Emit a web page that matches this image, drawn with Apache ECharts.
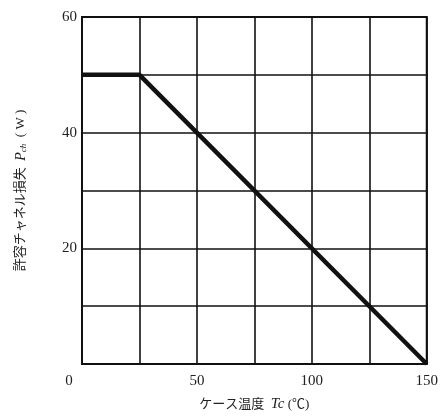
<!DOCTYPE html>
<html>
<head>
<meta charset="utf-8">
<script src="https://cdn.jsdelivr.net/npm/echarts@6/dist/echarts.min.js"></script>
<style>html,body{margin:0;padding:0;background:#fff}#c{width:441px;height:417px}</style>
</head>
<body>
<div id="c"></div>
<script>
const xTemps = [0, 25, 150];
const yPower = [50, 50, 0];
const xTickLabels = [0, 50, 100, 150];
const yTickLabels = [20, 40, 60];

const FONT = '"Liberation Serif", "Noto Sans CJK JP", serif';
const chart = echarts.init(document.getElementById('c'));
chart.setOption({
  backgroundColor: '#fff',
  animation: false,
  grid: {left: 82, right: 14, top: 17, bottom: 52, show: true, borderColor: '#111', borderWidth: 2, containLabel: false},
  xAxis: {
    type: 'value', min: 0, max: 150, interval: 25,
    axisLine: {show: true, lineStyle: {color: '#111', width: 2}},
    axisTick: {show: false},
    splitLine: {show: true, lineStyle: {color: '#111', width: 1.6}},
    axisLabel: {
      margin: 10, color: '#222', fontFamily: FONT, fontSize: 15,
      formatter: v => xTickLabels.includes(v) ? (v === 0 ? '{o|0}' : String(v)) : '',
      rich: {o: {padding: [0, 26, 0, 0], fontFamily: FONT, fontSize: 15, color: '#222'}}
    },
    name: 'ケース温度  {i|Tc} (℃)',
    nameLocation: 'middle', nameGap: 33,
    nameTextStyle: {color: '#222', fontFamily: FONT, fontSize: 13,
      rich: {i: {fontStyle: 'italic', fontFamily: FONT, fontSize: 15, color: '#222'}}}
  },
  yAxis: {
    type: 'value', min: 0, max: 60, interval: 10,
    axisLine: {show: true, lineStyle: {color: '#111', width: 2}},
    axisTick: {show: false},
    splitLine: {show: true, lineStyle: {color: '#111', width: 1.6}},
    axisLabel: {
      margin: 5, color: '#222', fontFamily: FONT, fontSize: 15,
      formatter: v => yTickLabels.includes(v) ? String(v) : ''
    },
    name: '許容チャネル損失  {i|P}{s|ch}  ( W )',
    nameLocation: 'middle', nameGap: 54,
    nameTextStyle: {color: '#222', fontFamily: FONT, fontSize: 13,
      rich: {i: {fontStyle: 'italic', fontFamily: FONT, fontSize: 14, color: '#222'},
             s: {fontStyle: 'italic', fontFamily: FONT, fontSize: 9, color: '#222', verticalAlign: 'bottom', padding: [5, 0, 0, 0]}}}
  },
  series: [{
    type: 'line',
    data: xTemps.map((x, i) => [x, yPower[i]]),
    showSymbol: false,
    lineStyle: {color: '#111', width: 4.5},
    z: 5
  }]
});
</script>
</body>
</html>
